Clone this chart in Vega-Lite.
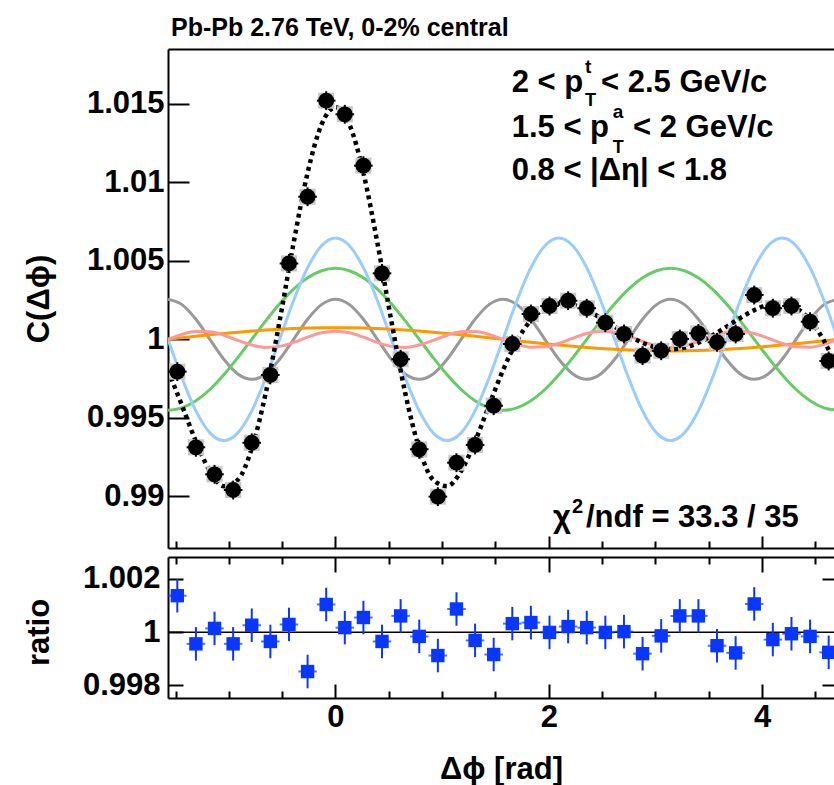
{
"$schema": "https://vega.github.io/schema/vega-lite/v6.json",
"autosize": "none",
"padding": {"left": 168, "top": 49, "right": 666, "bottom": 736},
"background": "white",
"bounds": "flush",
"spacing": 9,
"config": {
 "font": "Liberation Sans",
 "view": {"stroke": null},
 "axis": {"grid": false, "domainColor": "black", "domainWidth": 2, "tickColor": "black", "tickWidth": 2, "labelColor": "black", "titleColor": "black", "labelFont": "Liberation Sans", "labelFontWeight": "bold", "labelFontSize": 31, "titleFont": "Liberation Sans", "titleFontWeight": "bold", "titleFontSize": 31, "labelOverlap": false, "labelFlush": false, "labelBound": false}
},
"datasets": {
 "curves": [
  {"x":-1.5708,"a1":1.0,"a2":0.99548,"a3":1.0,"a4":1.00255,"a5":1.0,"fit":0.99803},
  {"x":-1.4399,"a1":1.000097,"a2":0.995634,"a3":0.997532,"a4":1.002208,"a5":1.000317,"fit":0.995788},
  {"x":-1.3090,"a1":1.000192,"a2":0.996086,"a3":0.995439,"a4":1.001275,"a5":1.000502,"fit":0.993494},
  {"x":-1.1781,"a1":1.000283,"a2":0.996804,"a3":0.994041,"a4":1.0,"a5":1.00048,"fit":0.991608},
  {"x":-1.0472,"a1":1.00037,"a2":0.99774,"a3":0.99355,"a4":0.998725,"a5":1.00026,"fit":0.990645},
  {"x":-0.9163,"a1":1.00045,"a2":0.99883,"a3":0.994041,"a4":0.997792,"a5":0.999932,"fit":0.991045},
  {"x":-0.7854,"a1":1.000523,"a2":1.0,"a3":0.995439,"a4":0.99745,"a5":0.999632,"fit":0.993044},
  {"x":-0.6545,"a1":1.000587,"a2":1.00117,"a3":0.997532,"a4":0.997792,"a5":0.999484,"fit":0.996565},
  {"x":-0.5236,"a1":1.000641,"a2":1.00226,"a3":1.0,"a4":0.998725,"a5":0.99955,"fit":1.001176},
  {"x":-0.3927,"a1":1.000684,"a2":1.003196,"a3":1.002468,"a4":1.0,"a5":0.999801,"fit":1.006149},
  {"x":-0.2618,"a1":1.000715,"a2":1.003914,"a3":1.004561,"a4":1.001275,"a5":1.000135,"fit":1.0106},
  {"x":-0.1309,"a1":1.000734,"a2":1.004366,"a3":1.005959,"a4":1.002208,"a5":1.000413,"fit":1.01368},
  {"x":0.0,"a1":1.00074,"a2":1.00452,"a3":1.00645,"a4":1.00255,"a5":1.00052,"fit":1.01478},
  {"x":0.1309,"a1":1.000734,"a2":1.004366,"a3":1.005959,"a4":1.002208,"a5":1.000413,"fit":1.01368},
  {"x":0.2618,"a1":1.000715,"a2":1.003914,"a3":1.004561,"a4":1.001275,"a5":1.000135,"fit":1.0106},
  {"x":0.3927,"a1":1.000684,"a2":1.003196,"a3":1.002468,"a4":1.0,"a5":0.999801,"fit":1.006149},
  {"x":0.5236,"a1":1.000641,"a2":1.00226,"a3":1.0,"a4":0.998725,"a5":0.99955,"fit":1.001176},
  {"x":0.6545,"a1":1.000587,"a2":1.00117,"a3":0.997532,"a4":0.997792,"a5":0.999484,"fit":0.996565},
  {"x":0.7854,"a1":1.000523,"a2":1.0,"a3":0.995439,"a4":0.99745,"a5":0.999632,"fit":0.993044},
  {"x":0.9163,"a1":1.00045,"a2":0.99883,"a3":0.994041,"a4":0.997792,"a5":0.999932,"fit":0.991045},
  {"x":1.0472,"a1":1.00037,"a2":0.99774,"a3":0.99355,"a4":0.998725,"a5":1.00026,"fit":0.990645},
  {"x":1.1781,"a1":1.000283,"a2":0.996804,"a3":0.994041,"a4":1.0,"a5":1.00048,"fit":0.991608},
  {"x":1.3090,"a1":1.000192,"a2":0.996086,"a3":0.995439,"a4":1.001275,"a5":1.000502,"fit":0.993494},
  {"x":1.4399,"a1":1.000097,"a2":0.995634,"a3":0.997532,"a4":1.002208,"a5":1.000317,"fit":0.995788},
  {"x":1.5708,"a1":1.0,"a2":0.99548,"a3":1.0,"a4":1.00255,"a5":1.0,"fit":0.99803},
  {"x":1.7017,"a1":0.999903,"a2":0.995634,"a3":1.002468,"a4":1.002208,"a5":0.999683,"fit":0.999896},
  {"x":1.8326,"a1":0.999808,"a2":0.996086,"a3":1.004561,"a4":1.001275,"a5":0.999498,"fit":1.001228},
  {"x":1.9635,"a1":0.999717,"a2":0.996804,"a3":1.005959,"a4":1.0,"a5":0.99952,"fit":1.002},
  {"x":2.0944,"a1":0.99963,"a2":0.99774,"a3":1.00645,"a4":0.998725,"a5":0.99974,"fit":1.002285},
  {"x":2.2253,"a1":0.99955,"a2":0.99883,"a3":1.005959,"a4":0.997792,"a5":1.000068,"fit":1.002199},
  {"x":2.3562,"a1":0.999477,"a2":1.0,"a3":1.004561,"a4":0.99745,"a5":1.000368,"fit":1.001856},
  {"x":2.4871,"a1":0.999413,"a2":1.00117,"a3":1.002468,"a4":0.997792,"a5":1.000516,"fit":1.001359},
  {"x":2.6180,"a1":0.999359,"a2":1.00226,"a3":1.0,"a4":0.998725,"a5":1.00045,"fit":1.000794},
  {"x":2.7489,"a1":0.999316,"a2":1.003196,"a3":0.997532,"a4":1.0,"a5":1.000199,"fit":1.000243},
  {"x":2.8798,"a1":0.999285,"a2":1.003914,"a3":0.995439,"a4":1.001275,"a5":0.999865,"fit":0.999778},
  {"x":3.0107,"a1":0.999266,"a2":1.004366,"a3":0.994041,"a4":1.002208,"a5":0.999587,"fit":0.999468},
  {"x":3.1416,"a1":0.99926,"a2":1.00452,"a3":0.99355,"a4":1.00255,"a5":0.99948,"fit":0.99936},
  {"x":3.2725,"a1":0.999266,"a2":1.004366,"a3":0.994041,"a4":1.002208,"a5":0.999587,"fit":0.999468},
  {"x":3.4034,"a1":0.999285,"a2":1.003914,"a3":0.995439,"a4":1.001275,"a5":0.999865,"fit":0.999778},
  {"x":3.5343,"a1":0.999316,"a2":1.003196,"a3":0.997532,"a4":1.0,"a5":1.000199,"fit":1.000243},
  {"x":3.6652,"a1":0.999359,"a2":1.00226,"a3":1.0,"a4":0.998725,"a5":1.00045,"fit":1.000794},
  {"x":3.7961,"a1":0.999413,"a2":1.00117,"a3":1.002468,"a4":0.997792,"a5":1.000516,"fit":1.001359},
  {"x":3.9270,"a1":0.999477,"a2":1.0,"a3":1.004561,"a4":0.99745,"a5":1.000368,"fit":1.001856},
  {"x":4.0579,"a1":0.99955,"a2":0.99883,"a3":1.005959,"a4":0.997792,"a5":1.000068,"fit":1.002199},
  {"x":4.1888,"a1":0.99963,"a2":0.99774,"a3":1.00645,"a4":0.998725,"a5":0.99974,"fit":1.002285},
  {"x":4.3197,"a1":0.999717,"a2":0.996804,"a3":1.005959,"a4":1.0,"a5":0.99952,"fit":1.002},
  {"x":4.4506,"a1":0.999808,"a2":0.996086,"a3":1.004561,"a4":1.001275,"a5":0.999498,"fit":1.001228},
  {"x":4.5815,"a1":0.999903,"a2":0.995634,"a3":1.002468,"a4":1.002208,"a5":0.999683,"fit":0.999896},
  {"x":4.7124,"a1":1.0,"a2":0.99548,"a3":1.0,"a4":1.00255,"a5":1.0,"fit":0.99803}
 ],
 "pts": [
  {"x":-1.4835,"y":0.99794,"e":0.0006,"r":1.00137,"re":0.00063},
  {"x":-1.3090,"y":0.99312,"e":0.0006,"r":0.99956,"re":0.00063},
  {"x":-1.1345,"y":0.99140,"e":0.0006,"r":1.00014,"re":0.00063},
  {"x":-0.9599,"y":0.99040,"e":0.0006,"r":0.99956,"re":0.00063},
  {"x":-0.7854,"y":0.99341,"e":0.0006,"r":1.00026,"re":0.00063},
  {"x":-0.6109,"y":0.99773,"e":0.0006,"r":0.99965,"re":0.00063},
  {"x":-0.4363,"y":1.00483,"e":0.0006,"r":1.00029,"re":0.00063},
  {"x":-0.2618,"y":1.00908,"e":0.0006,"r":0.99852,"re":0.00063},
  {"x":-0.0873,"y":1.01520,"e":0.0006,"r":1.00104,"re":0.00063},
  {"x":0.0873,"y":1.01433,"e":0.0006,"r":1.00017,"re":0.00063},
  {"x":0.2618,"y":1.01106,"e":0.0006,"r":1.00055,"re":0.00063},
  {"x":0.4363,"y":1.00420,"e":0.0006,"r":0.99965,"re":0.00063},
  {"x":0.6109,"y":0.99873,"e":0.0006,"r":1.00061,"re":0.00063},
  {"x":0.7854,"y":0.99299,"e":0.0006,"r":0.99984,"re":0.00063},
  {"x":0.9599,"y":0.98998,"e":0.0006,"r":0.99912,"re":0.00063},
  {"x":1.1345,"y":0.99214,"e":0.0006,"r":1.00087,"re":0.00063},
  {"x":1.3090,"y":0.99327,"e":0.0006,"r":0.99969,"re":0.00063},
  {"x":1.4835,"y":0.99577,"e":0.0006,"r":0.99916,"re":0.00063},
  {"x":1.6581,"y":0.99970,"e":0.0006,"r":1.00032,"re":0.00063},
  {"x":1.8326,"y":1.00161,"e":0.0006,"r":1.00036,"re":0.00063},
  {"x":2.0071,"y":1.00212,"e":0.0006,"r":0.99999,"re":0.00063},
  {"x":2.1817,"y":1.00246,"e":0.0006,"r":1.00021,"re":0.00063},
  {"x":2.3562,"y":1.00198,"e":0.0006,"r":1.00017,"re":0.00063},
  {"x":2.5307,"y":1.00106,"e":0.0006,"r":0.99999,"re":0.00063},
  {"x":2.7053,"y":1.00034,"e":0.0006,"r":1.00002,"re":0.00063},
  {"x":2.8798,"y":0.99896,"e":0.0006,"r":0.99919,"re":0.00063},
  {"x":3.0543,"y":0.99927,"e":0.0006,"r":0.99986,"re":0.00063},
  {"x":3.2289,"y":1.00002,"e":0.0006,"r":1.00061,"re":0.00063},
  {"x":3.4034,"y":1.00038,"e":0.0006,"r":1.00061,"re":0.00063},
  {"x":3.5779,"y":0.99981,"e":0.0006,"r":0.99949,"re":0.00063},
  {"x":3.7525,"y":1.00034,"e":0.0006,"r":0.99922,"re":0.00063},
  {"x":3.9270,"y":1.00282,"e":0.0006,"r":1.00106,"re":0.00063},
  {"x":4.1015,"y":1.00198,"e":0.0006,"r":0.99972,"re":0.00063},
  {"x":4.2761,"y":1.00212,"e":0.0006,"r":0.99994,"re":0.00063},
  {"x":4.4506,"y":1.00112,"e":0.0006,"r":0.99984,"re":0.00063},
  {"x":4.6251,"y":0.99862,"e":0.0006,"r":0.99924,"re":0.00063}
 ]
},
"vconcat": [
 {
  "width": 666, "height": 499,
  "title": {"text": "Pb-Pb 2.76 TeV, 0-2% central", "anchor": "start", "frame": "group", "orient": "top", "fontSize": 25, "fontWeight": "bold", "font": "Liberation Sans", "color": "black", "baseline": "alphabetic", "offset": -12, "dx": 3},
  "resolve": {"axis": {"x": "independent", "y": "independent"}},
  "layer": [
   {"data": {"name": "curves"}, "mark": {"type": "line", "color": "#999999", "strokeWidth": 3, "interpolate": "monotone", "clip": true},
    "encoding": {
     "x": {"field": "x", "type": "quantitative", "scale": {"domain": [-1.5708, 4.6751], "nice": false, "zero": false}, "axis": {"orient": "bottom", "values": [0, 2, 4], "tickSize": -12, "labels": false, "domain": true, "title": null}},
     "y": {"field": "a4", "type": "quantitative", "scale": {"domain": [0.986707, 1.01849], "nice": false, "zero": false}, "axis": {"orient": "left", "values": [0.99, 0.995, 1, 1.005, 1.01, 1.015], "format": "~g", "ticks": false, "labels": true, "labelPadding": 4, "domain": true, "title": "C(Δϕ)", "titleX": -120, "titleY": 249.5, "titleAngle": -90, "titleAlign": "center", "titleBaseline": "alphabetic"}}}},
   {"data": {"name": "curves"}, "mark": {"type": "line", "color": "#66cc66", "strokeWidth": 3, "interpolate": "monotone", "clip": true},
    "encoding": {
     "x": {"field": "x", "type": "quantitative", "scale": {"domain": [-1.5708, 4.6751], "nice": false, "zero": false}, "axis": {"orient": "bottom", "values": [-1.5, -1, -0.5, 0.5, 1, 1.5, 2.5, 3, 3.5, 4.5], "tickSize": -7, "labels": false, "domain": false, "title": null}},
     "y": {"field": "a2", "type": "quantitative", "scale": {"domain": [0.986707, 1.01849], "nice": false, "zero": false}, "axis": {"orient": "left", "values": [0.99, 0.995, 1, 1.005, 1.01, 1.015], "tickSize": -21, "labels": false, "domain": false, "title": null}}}},
   {"data": {"name": "curves"}, "mark": {"type": "line", "color": "#99ccff", "strokeWidth": 3, "interpolate": "monotone", "clip": true},
    "encoding": {
     "x": {"field": "x", "type": "quantitative", "scale": {"domain": [-1.5708, 4.6751], "nice": false, "zero": false}, "axis": {"orient": "top", "ticks": false, "labels": false, "domain": true, "title": null}},
     "y": {"field": "a3", "type": "quantitative", "scale": {"domain": [0.986707, 1.01849], "nice": false, "zero": false}, "axis": null}}},
   {"data": {"name": "curves"}, "mark": {"type": "line", "color": "#ff9900", "strokeWidth": 3, "interpolate": "monotone", "clip": true},
    "encoding": {
     "x": {"field": "x", "type": "quantitative", "scale": {"domain": [-1.5708, 4.6751], "nice": false, "zero": false}, "axis": null},
     "y": {"field": "a1", "type": "quantitative", "scale": {"domain": [0.986707, 1.01849], "nice": false, "zero": false}, "axis": null}}},
   {"data": {"name": "curves"}, "mark": {"type": "line", "color": "#ff9999", "strokeWidth": 3, "interpolate": "monotone", "clip": true},
    "encoding": {
     "x": {"field": "x", "type": "quantitative", "scale": {"domain": [-1.5708, 4.6751], "nice": false, "zero": false}, "axis": null},
     "y": {"field": "a5", "type": "quantitative", "scale": {"domain": [0.986707, 1.01849], "nice": false, "zero": false}, "axis": null}}},
   {"data": {"name": "curves"}, "mark": {"type": "line", "color": "black", "strokeWidth": 4.5, "strokeDash": [4, 4], "interpolate": "monotone", "clip": true},
    "encoding": {
     "x": {"field": "x", "type": "quantitative", "scale": {"domain": [-1.5708, 4.6751], "nice": false, "zero": false}, "axis": null},
     "y": {"field": "fit", "type": "quantitative", "scale": {"domain": [0.986707, 1.01849], "nice": false, "zero": false}, "axis": null}}},
   {"data": {"name": "pts"}, "mark": {"type": "point", "shape": "square", "filled": true, "color": "#c8c8c8", "opacity": 1, "size": 260},
    "encoding": {
     "x": {"field": "x", "type": "quantitative", "scale": {"domain": [-1.5708, 4.6751], "nice": false, "zero": false}, "axis": null},
     "y": {"field": "y", "type": "quantitative", "scale": {"domain": [0.986707, 1.01849], "nice": false, "zero": false}, "axis": null}}},
   {"data": {"name": "pts"}, "mark": {"type": "errorbar", "color": "black", "thickness": 2, "ticks": false},
    "encoding": {
     "x": {"field": "x", "type": "quantitative", "scale": {"domain": [-1.5708, 4.6751], "nice": false, "zero": false}, "axis": null},
     "y": {"field": "y", "type": "quantitative", "scale": {"domain": [0.986707, 1.01849], "nice": false, "zero": false}, "axis": null},
     "yError": {"field": "e"}}},
   {"data": {"name": "pts"}, "mark": {"type": "tick", "orient": "horizontal", "color": "black", "size": 18.6, "thickness": 2, "opacity": 1},
    "encoding": {
     "x": {"field": "x", "type": "quantitative", "scale": {"domain": [-1.5708, 4.6751], "nice": false, "zero": false}, "axis": null},
     "y": {"field": "y", "type": "quantitative", "scale": {"domain": [0.986707, 1.01849], "nice": false, "zero": false}, "axis": null}}},
   {"data": {"name": "pts"}, "mark": {"type": "point", "shape": "circle", "filled": true, "color": "black", "opacity": 1, "size": 250},
    "encoding": {
     "x": {"field": "x", "type": "quantitative", "scale": {"domain": [-1.5708, 4.6751], "nice": false, "zero": false}, "axis": null},
     "y": {"field": "y", "type": "quantitative", "scale": {"domain": [0.986707, 1.01849], "nice": false, "zero": false}, "axis": null}}},
   {"data": {"values": [{}]}, "mark": {"type": "text", "text": "2 < p", "align": "left", "baseline": "alphabetic", "fontSize": 31, "fontWeight": "bold", "font": "Liberation Sans", "color": "black"},
    "encoding": {"x": {"datum": 1.6525, "type": "quantitative", "axis": null}, "y": {"datum": 1.015752, "type": "quantitative", "axis": null}}},
   {"data": {"values": [{}]}, "mark": {"type": "text", "text": "t", "align": "left", "baseline": "alphabetic", "fontSize": 19, "fontWeight": "bold", "font": "Liberation Sans", "color": "black"},
    "encoding": {"x": {"datum": 2.34, "type": "quantitative", "axis": null}, "y": {"datum": 1.01693, "type": "quantitative", "axis": null}}},
   {"data": {"values": [{}]}, "mark": {"type": "text", "text": "T", "align": "left", "baseline": "alphabetic", "fontSize": 18, "fontWeight": "bold", "font": "Liberation Sans", "color": "black"},
    "encoding": {"x": {"datum": 2.34, "type": "quantitative", "axis": null}, "y": {"datum": 1.014828, "type": "quantitative", "axis": null}}},
   {"data": {"values": [{}]}, "mark": {"type": "text", "text": "< 2.5 GeV/c", "align": "left", "baseline": "alphabetic", "fontSize": 31, "fontWeight": "bold", "font": "Liberation Sans", "color": "black"},
    "encoding": {"x": {"datum": 2.49, "type": "quantitative", "axis": null}, "y": {"datum": 1.015752, "type": "quantitative", "axis": null}}},
   {"data": {"values": [{}]}, "mark": {"type": "text", "text": "1.5 < p", "align": "left", "baseline": "alphabetic", "fontSize": 31, "fontWeight": "bold", "font": "Liberation Sans", "color": "black"},
    "encoding": {"x": {"datum": 1.6525, "type": "quantitative", "axis": null}, "y": {"datum": 1.012904, "type": "quantitative", "axis": null}}},
   {"data": {"values": [{}]}, "mark": {"type": "text", "text": "a", "align": "left", "baseline": "alphabetic", "fontSize": 19, "fontWeight": "bold", "font": "Liberation Sans", "color": "black"},
    "encoding": {"x": {"datum": 2.60, "type": "quantitative", "axis": null}, "y": {"datum": 1.014083, "type": "quantitative", "axis": null}}},
   {"data": {"values": [{}]}, "mark": {"type": "text", "text": "T", "align": "left", "baseline": "alphabetic", "fontSize": 18, "fontWeight": "bold", "font": "Liberation Sans", "color": "black"},
    "encoding": {"x": {"datum": 2.60, "type": "quantitative", "axis": null}, "y": {"datum": 1.011885, "type": "quantitative", "axis": null}}},
   {"data": {"values": [{}]}, "mark": {"type": "text", "text": "< 2 GeV/c", "align": "left", "baseline": "alphabetic", "fontSize": 31, "fontWeight": "bold", "font": "Liberation Sans", "color": "black"},
    "encoding": {"x": {"datum": 2.79, "type": "quantitative", "axis": null}, "y": {"datum": 1.012904, "type": "quantitative", "axis": null}}},
   {"data": {"values": [{}]}, "mark": {"type": "text", "text": "0.8 < |Δη| < 1.8", "align": "left", "baseline": "alphabetic", "fontSize": 31, "fontWeight": "bold", "font": "Liberation Sans", "color": "black"},
    "encoding": {"x": {"datum": 1.6525, "type": "quantitative", "axis": null}, "y": {"datum": 1.010146, "type": "quantitative", "axis": null}}},
   {"data": {"values": [{}]}, "mark": {"type": "text", "text": "χ", "align": "left", "baseline": "alphabetic", "fontSize": 31, "fontWeight": "bold", "font": "Liberation Sans", "color": "black"},
    "encoding": {"x": {"datum": 2.04, "type": "quantitative", "axis": null}, "y": {"datum": 0.988064, "type": "quantitative", "axis": null}}},
   {"data": {"values": [{}]}, "mark": {"type": "text", "text": "2", "align": "left", "baseline": "alphabetic", "fontSize": 20, "fontWeight": "bold", "font": "Liberation Sans", "color": "black"},
    "encoding": {"x": {"datum": 2.218, "type": "quantitative", "axis": null}, "y": {"datum": 0.988936, "type": "quantitative", "axis": null}}},
   {"data": {"values": [{}]}, "mark": {"type": "text", "text": "/ndf = 33.3 / 35", "align": "left", "baseline": "alphabetic", "fontSize": 31, "fontWeight": "bold", "font": "Liberation Sans", "color": "black"},
    "encoding": {"x": {"datum": 2.349, "type": "quantitative", "axis": null}, "y": {"datum": 0.988064, "type": "quantitative", "axis": null}}}
  ]
 },
 {
  "width": 666, "height": 141,
  "resolve": {"axis": {"x": "independent", "y": "independent"}},
  "layer": [
   {"data": {"values": [{}]}, "mark": {"type": "rule", "color": "black", "strokeWidth": 1.5},
    "encoding": {"y": {"datum": 1, "type": "quantitative", "scale": {"domain": [0.997525, 1.002824], "nice": false, "zero": false}, "axis": null}}},
   {"data": {"name": "pts"}, "mark": {"type": "errorbar", "color": "#0a37ff", "thickness": 2, "ticks": false},
    "encoding": {
     "x": {"field": "x", "type": "quantitative", "scale": {"domain": [-1.5708, 4.6751], "nice": false, "zero": false}, "axis": {"orient": "bottom", "values": [0, 2, 4], "ticks": false, "labels": true, "labelBaseline": "alphabetic", "labelPadding": 28, "domain": true, "title": "Δϕ [rad]", "titleX": 333, "titleY": 80, "titleAlign": "center", "titleBaseline": "alphabetic", "titleAngle": 0}},
     "y": {"field": "r", "type": "quantitative", "scale": {"domain": [0.997525, 1.002824], "nice": false, "zero": false}, "axis": {"orient": "left", "values": [0.998, 1, 1.002], "format": "~g", "ticks": false, "labels": true, "labelPadding": 8, "domain": true, "title": "ratio", "titleX": -120, "titleY": 75, "titleAngle": -90, "titleAlign": "center", "titleBaseline": "alphabetic"}},
     "yError": {"field": "re"}}},
   {"data": {"name": "pts"}, "mark": {"type": "tick", "orient": "horizontal", "color": "#0a37ff", "size": 18.6, "thickness": 2},
    "encoding": {
     "x": {"field": "x", "type": "quantitative", "scale": {"domain": [-1.5708, 4.6751], "nice": false, "zero": false}, "axis": {"orient": "bottom", "values": [0, 2, 4], "tickSize": -14, "labels": false, "domain": false, "title": null}},
     "y": {"field": "r", "type": "quantitative", "scale": {"domain": [0.997525, 1.002824], "nice": false, "zero": false}, "axis": {"orient": "left", "values": [0.998, 1, 1.002], "tickSize": -15, "labels": false, "domain": false, "title": null}}}},
   {"data": {"name": "pts"}, "mark": {"type": "point", "shape": "square", "filled": true, "color": "#0a37ff", "opacity": 1, "size": 180},
    "encoding": {
     "x": {"field": "x", "type": "quantitative", "scale": {"domain": [-1.5708, 4.6751], "nice": false, "zero": false}, "axis": {"orient": "bottom", "values": [-1.5, -1, -0.5, 0.5, 1, 1.5, 2.5, 3, 3.5, 4.5], "tickSize": -7, "labels": false, "domain": false, "title": null}},
     "y": {"field": "r", "type": "quantitative", "scale": {"domain": [0.997525, 1.002824], "nice": false, "zero": false}, "axis": {"orient": "right", "values": [0.998, 1.002], "tickSize": -12, "labels": false, "domain": false, "title": null}}}},
   {"data": {"name": "pts"}, "mark": {"type": "point", "opacity": 0},
    "encoding": {
     "x": {"field": "x", "type": "quantitative", "scale": {"domain": [-1.5708, 4.6751], "nice": false, "zero": false}, "axis": {"orient": "top", "values": [0, 2, 4], "tickSize": -15, "labels": false, "domain": true, "title": null}},
     "y": {"field": "r", "type": "quantitative", "scale": {"domain": [0.997525, 1.002824], "nice": false, "zero": false}, "axis": null}}},
   {"data": {"name": "pts"}, "mark": {"type": "point", "opacity": 0},
    "encoding": {
     "x": {"field": "x", "type": "quantitative", "scale": {"domain": [-1.5708, 4.6751], "nice": false, "zero": false}, "axis": {"orient": "top", "values": [-1.5, -1, -0.5, 0.5, 1, 1.5, 2.5, 3, 3.5, 4.5], "tickSize": -7, "labels": false, "domain": false, "title": null}},
     "y": {"field": "r", "type": "quantitative", "scale": {"domain": [0.997525, 1.002824], "nice": false, "zero": false}, "axis": null}}}
  ]
 }
]
}
